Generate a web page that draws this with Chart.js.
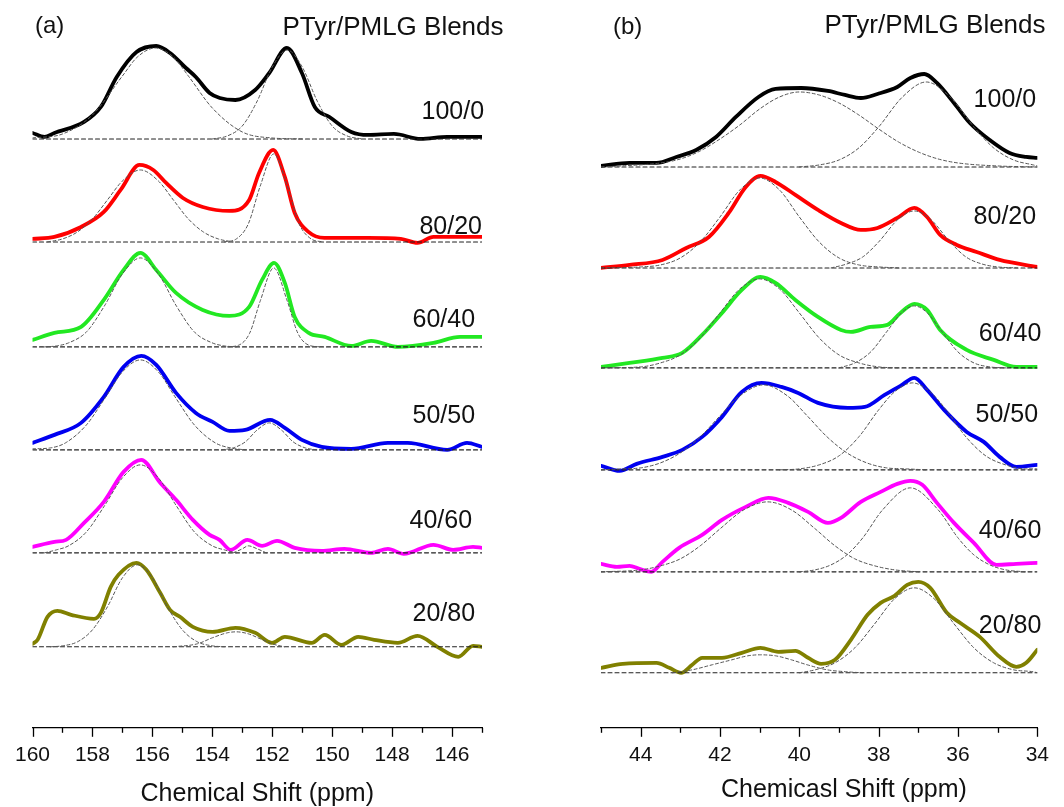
<!DOCTYPE html>
<html>
<head>
<meta charset="utf-8">
<script src="https://cdn.jsdelivr.net/npm/chart.js@4.4.1/dist/chart.umd.min.js"></script>
<style>
  html, body { margin: 0; padding: 0; background: #fff; }
  #wrap { position: relative; width: 1064px; height: 807px; }
  #wrap canvas { position: absolute; top: 0; }
  #chartA { left: 0; }
  #chartB { left: 532px; }
</style>
</head>
<body>
<div id="wrap">
  <canvas id="chartA" width="532" height="807"></canvas>
  <canvas id="chartB" width="532" height="807"></canvas>
</div>
<script>
Chart.defaults.font.family = '"Liberation Sans", Arial, sans-serif';
Chart.defaults.color = '#111';

const sampleNames = ['100/0', '80/20', '60/40', '50/50', '40/60', '20/80'];
const sampleColors = ['#000000', '#ff0000', '#22e822', '#0000f0', '#ff00ff', '#808000'];

// ---- (a) aromatic C-OH region, 160-145 ppm ----
const ticksA = [160, 158, 156, 154, 152, 150, 148, 146];
const offsetsA = [589, 486, 381, 278, 175, 81];

const specA_100_0 = [[160,6],[159.6,2],[159.27,6],[158.28,17],[157.72,32],[157.19,62],[156.53,87],[155.87,93],[155.41,86],[154.88,71],[154.55,62],[154.09,46],[153.75,41],[153.23,39],[152.57,49],[152.1,66],[151.51,91],[151.01,66],[150.58,32],[150.09,22],[149.36,7],[148.8,4],[147.94,5],[147.05,0],[146.16,2],[145,2]];
const specA_80_20 = [[160,3],[159.27,5],[158.38,15],[157.62,30],[157.06,52],[156.43,77],[155.97,72],[155.54,59],[154.98,44],[154.32,35],[153.43,31],[152.77,42],[152.44,69],[151.97,92],[151.58,65],[151.25,29],[150.79,10],[150.26,4],[148.8,4],[147.71,3],[147.15,-1],[146.62,5],[145,5]];
const specA_60_40 = [[160,7],[159.27,14],[158.38,20],[157.62,47],[156.96,77],[156.4,94],[155.87,77],[155.21,54],[154.32,37],[153.43,31],[152.77,40],[152.34,67],[151.94,84],[151.58,64],[151.25,30],[150.78,14],[150.25,10],[149.36,1],[148.7,6],[147.81,0],[146.62,4],[145.73,10],[145,10]];
const specA_50_50 = [[160,7],[159.27,15],[158.38,27],[157.62,53],[156.96,83],[156.37,94],[155.87,85],[155.21,57],[154.55,37],[153.99,28],[153.43,19],[152.9,20],[152.07,30],[151.58,22],[151.01,10],[150.35,3],[149.36,1],[148.14,7],[147.48,7],[146.16,0],[145.5,7],[145,3]];
const specA_40_60 = [[160,6],[159.27,11],[158.88,13],[158.28,30],[157.62,51],[156.96,81],[156.37,93],[155.74,70],[155.21,53],[154.65,33],[154.09,18],[153.76,13],[153.39,3],[152.83,13],[152.34,7],[151.84,12],[151.25,5],[150.35,2],[149.59,4],[148.7,0],[148.14,4],[147.61,-1],[146.62,8],[145.96,3],[145.3,6],[145,5]];
const specA_20_80 = [[160,3],[159.83,7],[159.5,30],[159.17,36],[158.71,32],[157.95,28],[157.72,34],[157.39,60],[157.13,72],[156.53,84],[156.2,77],[155.74,54],[155.41,37],[155.08,30],[154.65,20],[153.99,15],[153.23,19],[152.57,14],[152.01,4],[151.58,10],[150.68,4],[150.25,12],[149.69,2],[149.13,10],[148.6,7],[147.81,4],[147.15,11],[146.49,0],[145.79,-10],[145.3,1],[145,0]];

// fitted components (dashed)
const fitA_100_0 = [
  [[160,1],[159,5],[158,24],[157,63],[156.5,82],[155.9,91],[155.3,82],[154.8,63],[154,31],[153,7],[152,1],[151,0]],
  [[154,0],[153.5,3],[153,13],[152.5,38],[152,72],[151.5,89],[151,72],[150.5,38],[150,13],[149.5,3],[149,0]]
];
const fitA_80_20 = [
  [[159.5,0],[159,3],[158.5,10],[158,23],[157.5,42],[157,61],[156.4,72],[155.8,61],[155.3,42],[154.8,23],[154.3,10],[153.8,3],[153.3,0]],
  [[153.6,0],[153.2,3],[152.8,18],[152.4,56],[151.95,88],[151.5,56],[151.1,18],[150.7,3],[150.3,0]]
];
const fitA_60_40 = [
  [[159.6,0],[159.2,1],[158.8,4],[158.2,15],[157.6,41],[157,73],[156.4,89],[155.8,73],[155.2,41],[154.6,15],[154,4],[153.6,1],[153.2,0]],
  [[153.5,0],[153.1,2],[152.75,14],[152.4,46],[151.95,79],[151.5,46],[151.15,14],[150.8,2],[150.4,0]]
];
const fitA_50_50 = [
  [[160,1],[159.4,2],[158.9,7],[158.2,25],[157.6,51],[157,78],[156.4,90],[155.8,78],[155.2,51],[154.6,25],[153.9,7],[153.4,2],[152.9,0]],
  [[153.7,0],[153.3,2],[152.9,8],[152.5,20],[152.1,27],[151.7,20],[151.3,8],[150.9,2],[150.5,0]]
];
const fitA_40_60 = [
  [[159.6,0],[159.2,3],[158.8,7],[158.2,21],[157.6,47],[157,75],[156.4,88],[155.8,75],[155.2,47],[154.6,21],[154,7],[153.6,3],[153.2,0]],
  [[153.3,0],[153,4],[152.8,7],[152.5,4],[152.2,0]]
];
const fitA_20_80 = [
  [[159.4,0],[159,1],[158.5,5],[158,17],[157.5,40],[157,69],[156.5,82],[156,69],[155.5,40],[155,17],[154.5,5],[154,1],[153.6,0]],
  [[155.3,0],[154.5,3],[154,9],[153.5,14],[153.2,15],[152.8,13],[152.4,8],[152,3],[151.6,0]]
];

// ---- (b) aliphatic region, 45-34 ppm ----
const ticksB = [44, 42, 40, 38, 36, 34];
const offsetsB = [561, 460, 360, 258, 156, 55];

const specB_100_0 = [[45,1],[44.28,4],[43.6,4],[43.1,10],[42.6,17],[42.1,30],[41.6,50],[41.03,70],[40.6,78],[39.95,79],[39.28,76],[38.85,72],[38.45,69],[38.03,73],[37.53,80],[37.2,89],[36.85,93],[36.53,84],[36.1,64],[35.7,44],[35.2,27],[34.7,14],[34.28,10],[34,9]];
const specB_80_20 = [[45,0],[44.28,3],[43.45,8],[42.85,20],[42.28,31],[41.78,55],[41.35,81],[40.98,92],[40.6,86],[40.1,73],[39.53,58],[38.95,45],[38.45,38],[38.03,40],[37.53,50],[37.1,60],[36.78,51],[36.45,33],[36.03,23],[35.53,16],[34.95,8],[34,1]];
const specB_60_40 = [[45,1],[44.28,5],[43.45,10],[42.95,15],[42.45,33],[41.95,55],[41.45,78],[40.98,91],[40.6,85],[40.1,68],[39.53,51],[38.95,38],[38.7,36],[38.2,41],[37.78,43],[37.45,55],[37.1,64],[36.78,58],[36.45,38],[35.78,18],[35.1,8],[34.53,1],[34,1]];
const specB_50_50 = [[45,4],[44.53,-1],[44.1,6],[43.45,13],[42.95,20],[42.45,33],[41.95,53],[41.45,78],[40.95,87],[40.45,83],[40.03,77],[39.53,67],[38.78,62],[38.35,63],[37.85,75],[37.45,84],[37.1,92],[36.78,80],[36.35,60],[35.78,38],[35.35,28],[34.95,13],[34.53,3],[34,5]];
const specB_40_60 = [[45,8],[44.6,5],[44.28,6],[44.03,3],[43.73,0],[43.45,10],[43.03,24],[42.45,37],[41.95,52],[41.35,65],[40.78,74],[40.28,69],[39.78,60],[39.28,49],[38.95,54],[38.45,70],[37.95,80],[37.53,88],[37.2,91],[36.9,87],[36.53,69],[36.1,49],[35.6,29],[35.03,7],[34.53,8],[34,9]];
const specB_20_80 = [[45,5],[44.45,9],[43.6,10],[43.28,5],[42.98,0],[42.7,8],[42.45,15],[41.95,15],[41.45,20],[40.98,25],[40.53,21],[40.1,22],[39.78,15],[39.45,9],[39.1,13],[38.7,33],[38.28,58],[37.95,70],[37.6,77],[37.28,88],[37,91],[36.7,85],[36.28,60],[35.95,50],[35.45,36],[34.95,16],[34.53,6],[34.28,10],[34,23]];

const fitB_100_0 = [
  [[45,0],[44.5,1],[43.5,4],[43,8],[42.5,16],[42,28],[41.5,42],[41,58],[40.5,70],[40,75],[39.5,72],[39,64],[38.5,52],[38,38],[37.5,25],[37,15],[36.5,8],[36,4],[35,1],[34,0]],
  [[40,0],[39.5,2],[39,7],[38.5,19],[38,40],[37.4,70],[36.8,85],[36.2,70],[35.6,40],[35.1,19],[34.6,7],[34.1,2],[34,1]]
];
const fitB_80_20 = [
  [[45,0],[44,1],[43.5,3],[43,10],[42.5,26],[42,51],[41.5,78],[41,90],[40.5,78],[40,51],[39.5,26],[39,10],[38.5,3],[38,1],[37.5,0]],
  [[39.2,0],[38.8,4],[38.4,11],[38,26],[37.5,49],[37.1,57],[36.7,49],[36.2,26],[35.8,11],[35.4,4],[35,1],[34.5,0]]
];
const fitB_60_40 = [
  [[45,0],[44,1],[43.5,5],[43,13],[42.5,30],[42,55],[41.5,79],[41,89],[40.5,79],[40,55],[39.5,30],[39,13],[38.5,5],[38,1],[37.5,0]],
  [[39,0],[38.6,5],[38.2,16],[37.8,36],[37.4,56],[37.1,62],[36.8,56],[36.4,36],[36,16],[35.6,5],[35.2,1],[34.8,0]]
];
const fitB_50_50 = [
  [[45,0],[44.5,1],[44,2],[43.5,7],[43,17],[42.5,33],[42,54],[41.5,74],[40.9,85],[40.3,74],[39.8,54],[39.3,33],[38.8,17],[38.3,7],[37.8,2],[37.3,1],[36.8,0]],
  [[40.5,0],[40,1],[39.5,5],[39,14],[38.5,33],[38,60],[37.6,78],[37.15,87],[36.7,78],[36.3,60],[35.8,33],[35.3,14],[34.8,5],[34.3,1],[34,1]]
];
const fitB_40_60 = [
  [[45,0],[44,2],[43.5,6],[43,13],[42.5,26],[42,43],[41.4,62],[40.8,70],[40.2,62],[39.6,43],[39.1,26],[38.6,13],[38.1,6],[37.6,2],[37,0]],
  [[40,0],[39.6,2],[39.2,7],[38.8,17],[38.4,34],[37.9,62],[37.2,84],[36.5,62],[36,34],[35.6,17],[35.2,7],[34.8,2],[34.3,0]]
];
const fitB_20_80 = [
  [[43.2,0],[42.7,3],[42.2,8],[41.7,13],[41.3,17],[41,18],[40.6,17],[40.2,13],[39.8,8],[39.3,3],[38.8,1],[38.4,0]],
  [[40,0],[39.6,3],[39.1,10],[38.6,25],[38.1,49],[37.6,74],[37.1,85],[36.6,74],[36.1,49],[35.6,25],[35.1,10],[34.6,3],[34.1,1],[34,0]]
];

const FONT = '"Liberation Sans", Arial, sans-serif';

// minor/major ticks under the axis line plus all the free text of a panel
const panelDecor = {
  id: 'panelDecor',
  afterDraw(chart, args, opts) {
    const { ctx, scales: { x, y } } = chart;
    ctx.save();
    ctx.strokeStyle = '#000';
    ctx.lineWidth = 1.3;
    for (let v = Math.ceil(x.min); v <= x.max; v++) {
      const px = Math.round(x.getPixelForValue(v)) + 0.5;
      const len = v % 2 === 0 ? 9 : 5;
      ctx.beginPath();
      ctx.moveTo(px, x.top);
      ctx.lineTo(px, x.top + len);
      ctx.stroke();
    }

    ctx.fillStyle = '#111';
    ctx.textBaseline = 'middle';
    ctx.font = '24px ' + FONT;
    ctx.textAlign = 'left';
    ctx.fillText(opts.letter, opts.letterX, opts.letterY);

    ctx.font = '26px ' + FONT;
    ctx.textAlign = 'center';
    ctx.fillText('PTyr/PMLG Blends', opts.headX, opts.headY);

    ctx.font = '25px ' + FONT;
    ctx.textAlign = 'right';
    sampleNames.forEach((name, i) => {
      const px = x.getPixelForValue(opts.labelPpm[i]);
      const py = y.getPixelForValue(opts.offsets[i] + opts.labelLift[i]);
      ctx.fillText(name, px, py);
    });

    ctx.font = '25px ' + FONT;
    ctx.textAlign = 'center';
    ctx.fillText(opts.title, x.getPixelForValue(opts.titlePpm), opts.titleY);
    ctx.restore();
  }
};

function toXY(pts, off) {
  return pts.map(p => ({ x: p[0], y: p[1] + off }));
}

function buildPanel(canvasId, p) {
  const datasets = [];
  p.spectra.forEach((spec, i) => {
    const off = p.offsets[i];
    datasets.push({
      data: toXY(spec, off),
      borderColor: sampleColors[i],
      borderWidth: 3.8,
      cubicInterpolationMode: 'monotone',
      order: 1
    });
    p.fits[i].forEach(comp => datasets.push({
      data: toXY(comp, off),
      borderColor: '#555',
      borderWidth: 1,
      borderDash: [3, 2.5],
      cubicInterpolationMode: 'monotone',
      order: 0
    }));
    datasets.push({
      data: [{ x: p.max, y: off }, { x: p.min, y: off }],
      borderColor: '#222',
      borderWidth: 1.1,
      borderDash: [4, 3],
      order: 0
    });
  });

  return new Chart(document.getElementById(canvasId), {
    type: 'line',
    data: { datasets },
    plugins: [panelDecor],
    options: {
      responsive: false,
      animation: false,
      layout: { padding: p.padding },
      elements: { point: { radius: 0 }, line: { borderCapStyle: 'round', borderJoinStyle: 'round' } },
      plugins: {
        legend: { display: false },
        tooltip: { enabled: false },
        panelDecor: p.decor
      },
      scales: {
        x: {
          type: 'linear',
          reverse: true,
          min: p.min,
          max: p.max,
          afterBuildTicks: axis => { axis.ticks = p.ticks.map(v => ({ value: v })); },
          ticks: { padding: 15, maxRotation: 0, autoSkip: false, font: { size: 21 }, color: '#111' },
          grid: { display: false, drawTicks: false },
          border: { display: true, color: '#000', width: 1.3 }
        },
        y: { display: false, min: 0, max: 700 }
      }
    }
  });
}

buildPanel('chartA', {
  min: 145, max: 160, ticks: ticksA, offsets: offsetsA,
  spectra: [specA_100_0, specA_80_20, specA_60_40, specA_50_50, specA_40_60, specA_20_80],
  fits: [fitA_100_0, fitA_80_20, fitA_60_40, fitA_50_50, fitA_40_60, fitA_20_80],
  padding: { left: 28, right: 50, top: 28, bottom: 24 },
  decor: {
    letter: '(a)', letterX: 35, letterY: 26,
    headX: 393, headY: 28,
    offsets: offsetsA,
    labelPpm: [144.93, 145.0, 145.23, 145.23, 145.33, 145.23],
    labelLift: [27, 15, 27, 34, 32, 33],
    title: 'Chemical Shift (ppm)', titlePpm: 152.5, titleY: 794
  }
});

buildPanel('chartB', {
  min: 34, max: 45, ticks: ticksB, offsets: offsetsB,
  spectra: [specB_100_0, specB_80_20, specB_60_40, specB_50_50, specB_40_60, specB_20_80],
  fits: [fitB_100_0, fitB_80_20, fitB_60_40, fitB_50_50, fitB_40_60, fitB_20_80],
  padding: { left: 69, right: 23, top: 28, bottom: 24 },
  decor: {
    letter: '(b)', letterX: 81, letterY: 27,
    headX: 403, headY: 26,
    offsets: offsetsB,
    labelPpm: [34.03, 34.03, 33.9, 33.98, 33.9, 33.9],
    labelLift: [67, 51, 34, 55, 41, 47],
    title: 'Chemicasl Shift (ppm)', titlePpm: 38.875, titleY: 790
  }
});
</script>
</body>
</html>
